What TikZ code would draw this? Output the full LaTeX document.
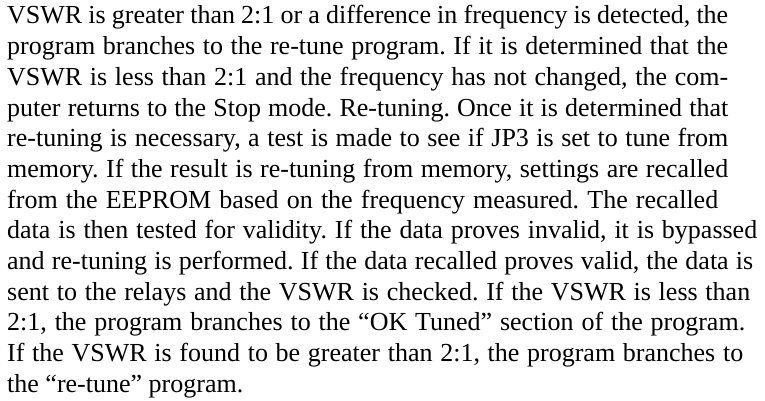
\documentclass[tikz,border=0pt]{standalone}
\usepackage{fontspec}
\setmainfont{Liberation Serif}
\frenchspacing

\begin{document}
\begin{tikzpicture}[x=1pt,y=1pt,
    textline/.style={anchor=base west, inner sep=0pt, font=\fontsize{26}{30}\selectfont}]
  \useasboundingbox (0,0) rectangle (765,401);

  % one node per printed line, stretched to its width
  \foreach \w/\txt [count=\i] in {
      721/{VSWR is greater than 2:1 or a difference in frequency is detected, the},
      721/{program branches to the re-tune program. If it is determined that the},
      721/{VSWR is less than 2:1 and the frequency has not changed, the com-},
      721/{puter returns to the Stop mode. Re-tuning. Once it is determined that},
      721/{re-tuning is necessary, a test is made to see if JP3 is set to tune from},
      721/{memory. If the result is re-tuning from memory, settings are recalled},
      711/{from the EEPROM based on the frequency measured. The recalled},
      750/{data is then tested for validity. If the data proves invalid, it is bypassed},
      746/{and re-tuning is performed. If the data recalled proves valid, the data is},
      743/{sent to the relays and the VSWR is checked. If the VSWR is less than},
      738/{2:1, the program branches to the “OK Tuned” section of the program.},
      736/{If the VSWR is found to be greater than 2:1, the program branches to}}
    \node[textline] (line\i) at (7,{377-30.7*(\i-1)}) {\hbox to \w pt{\txt}};
  \node[textline] (line13) at (7,{377-30.7*12}) {the “re-tune” program.};
\end{tikzpicture}
\end{document}
